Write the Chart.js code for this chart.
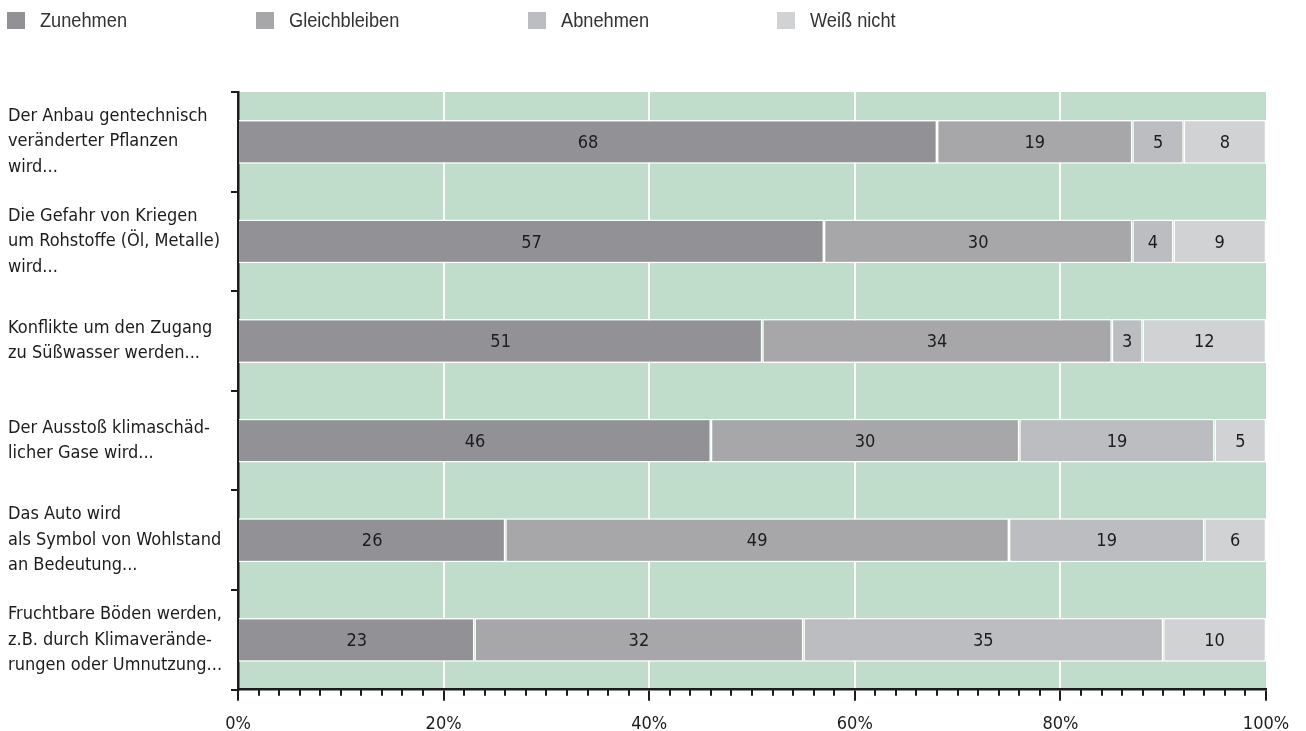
<!DOCTYPE html>
<html lang="de">
<head>
<meta charset="utf-8">
<title>Erwartungen für die Zukunft</title>
<script src="https://cdn.jsdelivr.net/npm/chart.js@4.4.1/dist/chart.umd.min.js"></script>
<style>
  html, body { margin: 0; padding: 0; background: #ffffff; }
  #wrap { position: relative; width: 1306px; height: 731px; }
</style>
</head>
<body>
<div id="wrap"><canvas id="chart"></canvas></div>
<script>
// Survey statements (one row per statement, multi-line labels)
const categories = [
  ["Der Anbau gentechnisch", "veränderter Pflanzen", "wird..."],
  ["Die Gefahr von Kriegen", "um Rohstoffe (Öl, Metalle)", "wird..."],
  ["Konflikte um den Zugang", "zu Süßwasser werden..."],
  ["Der Ausstoß klimaschäd-", "licher Gase wird..."],
  ["Das Auto wird", "als Symbol von Wohlstand", "an Bedeutung..."],
  ["Fruchtbare Böden werden,", "z.B. durch Klimaverände-", "rungen oder Umnutzung..."]
];

// Answer shares in percent
const zunehmen      = [68, 57, 51, 46, 26, 23];
const gleichbleiben = [19, 30, 34, 30, 49, 32];
const abnehmen      = [5, 4, 3, 19, 19, 35];
const weissNicht    = [8, 9, 12, 5, 6, 10];

const seriesNames = ["Zunehmen", "Gleichbleiben", "Abnehmen", "Weiß nicht"];

// x axis: labelled ticks every 20 %, small ticks every 2 %
const majorTicks = [0, 20, 40, 60, 80, 100];
const minorStep = 2;

const colors = ["#929296", "#a7a7aa", "#bcbdc0", "#d1d2d4"];
const plotBg = "#c0dcca";
const ink = "#1e1b1c";
const labelFont = "'DejaVu Sans Condensed', 'Liberation Sans Narrow', 'DejaVu Sans', sans-serif";
const legendFont = "'Liberation Sans', Arial, sans-serif";

// green plot background
const plotBackground = {
  id: "plotBackground",
  beforeDraw(chart) {
    const { ctx, chartArea: a } = chart;
    ctx.save();
    ctx.fillStyle = plotBg;
    ctx.fillRect(a.left, a.top, a.right - a.left, a.bottom - a.top);
    ctx.restore();
  }
};

// short ticks between the labelled x ticks
const minorTickMarks = {
  id: "minorTickMarks",
  afterDraw(chart) {
    const x = chart.scales.x;
    const { ctx } = chart;
    ctx.save();
    ctx.strokeStyle = ink;
    ctx.lineWidth = 2;
    ctx.beginPath();
    for (let v = x.min + minorStep; v < x.max; v += minorStep) {
      if (majorTicks.includes(v)) continue;
      const px = Math.round(x.getPixelForValue(v));
      ctx.moveTo(px, x.top);
      ctx.lineTo(px, x.top + 6);
    }
    ctx.stroke();
    ctx.restore();
  }
};

// value written in the middle of each bar segment
const segmentValues = {
  id: "segmentValues",
  afterDatasetsDraw(chart) {
    const { ctx } = chart;
    ctx.save();
    ctx.fillStyle = ink;
    ctx.font = "18px " + labelFont;
    ctx.textAlign = "center";
    ctx.textBaseline = "middle";
    chart.data.datasets.forEach((ds, di) => {
      chart.getDatasetMeta(di).data.forEach((bar, i) => {
        const p = bar.getCenterPoint();
        ctx.fillText(String(ds.data[i]), p.x, p.y + 1.5);
      });
    });
    ctx.restore();
  }
};

// legend row across the top (condensed lettering)
const legendRow = {
  id: "legendRow",
  afterDraw(chart) {
    const { ctx } = chart;
    const starts = [7, 256, 528, 777];
    const squeeze = 0.91;
    ctx.save();
    ctx.font = "20px " + legendFont;
    ctx.textBaseline = "middle";
    ctx.textAlign = "left";
    chart.data.datasets.forEach((ds, i) => {
      const x = starts[i];
      ctx.fillStyle = ds.backgroundColor;
      ctx.fillRect(x, 12, 18, 17);
      ctx.save();
      ctx.translate(x + 33, 21);
      ctx.scale(squeeze, 1);
      ctx.fillStyle = "#333333";
      ctx.fillText(ds.label, 0, 0);
      ctx.restore();
    });
    ctx.restore();
  }
};

const series = [zunehmen, gleichbleiben, abnehmen, weissNicht];

new Chart(document.getElementById("chart"), {
  type: "bar",
  data: {
    labels: categories,
    datasets: series.map((values, i) => ({
      label: seriesNames[i],
      data: values,
      backgroundColor: colors[i],
      borderColor: "#ffffff",
      borderWidth: 1.5,
      borderSkipped: i === 0 ? "start" : false,
      barPercentage: 0.44,
      categoryPercentage: 1
    }))
  },
  options: {
    indexAxis: "y",
    responsive: true,
    maintainAspectRatio: false,
    animation: false,
    layout: { padding: { top: 92, left: 8, right: 40, bottom: 0 } },
    plugins: {
      legend: { display: false },
      tooltip: { enabled: false }
    },
    scales: {
      x: {
        stacked: true,
        min: 0,
        max: 100,
        afterFit(scale) { scale.height = 40; },
        afterBuildTicks(scale) { scale.ticks = majorTicks.map(v => ({ value: v })); },
        ticks: {
          callback: v => v + "%",
          color: ink,
          padding: 13,
          maxRotation: 0,
          font: { family: labelFont, size: 18 }
        },
        grid: {
          color: c => (c.tick && (c.tick.value === 0 || c.tick.value === 100)) ? "rgba(0,0,0,0)" : "#ffffff",
          lineWidth: 2,
          tickColor: ink,
          tickLength: 11,
          tickWidth: 2
        },
        border: { display: true, color: ink, width: 2.5 }
      },
      y: {
        stacked: true,
        afterFit(scale) { scale.width = 230; },
        ticks: {
          crossAlign: "far",
          color: ink,
          font: { family: labelFont, size: 18, lineHeight: 1.42 }
        },
        grid: {
          drawOnChartArea: false,
          color: ink,
          tickColor: ink,
          tickLength: 7,
          lineWidth: 2,
          tickWidth: 2
        },
        border: { display: true, color: ink, width: 2.5 }
      }
    }
  },
  plugins: [plotBackground, minorTickMarks, segmentValues, legendRow]
});
</script>
</body>
</html>
